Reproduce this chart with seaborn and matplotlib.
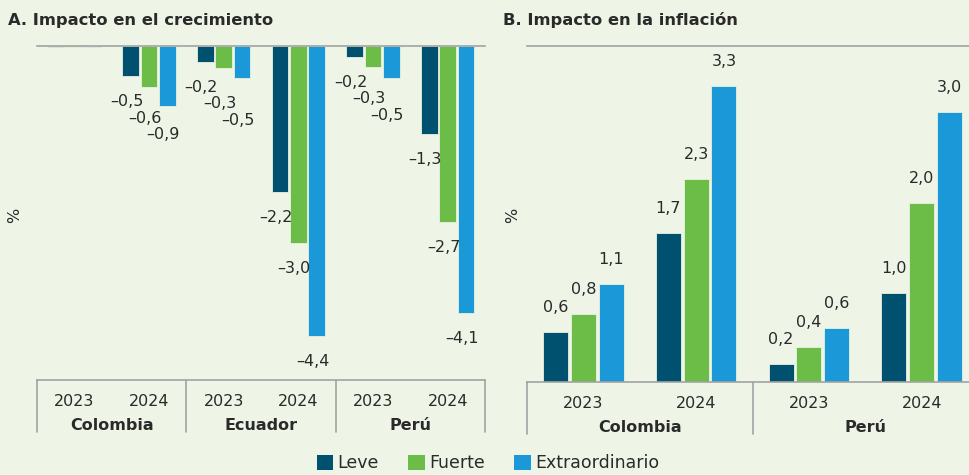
import matplotlib
matplotlib.use("Agg")
import matplotlib.pyplot as plt
import matplotlib.transforms as mtransforms
from matplotlib.patches import Patch
import seaborn as sns
import pandas as pd

# ---------------- data ----------------
scenarios = ["Leve", "Fuerte", "Extraordinario"]
years = ["2023", "2024"]
countries_a = ["Colombia", "Ecuador", "Perú"]
countries_b = ["Colombia", "Perú"]

# A. growth impact (%), slots: Col 23, Col 24, Ecu 23, Ecu 24, Per 23, Per 24
growth_leve = [-0.02, -0.46, -0.24, -2.22, -0.16, -1.34]
growth_fuerte = [-0.02, -0.63, -0.34, -2.99, -0.32, -2.67]
growth_extra = [-0.02, -0.91, -0.49, -4.41, -0.48, -4.06]

# B. inflation impact (%), slots: Col 23, Col 24, Per 23, Per 24
infl_leve = [0.56, 1.66, 0.20, 0.99]
infl_fuerte = [0.76, 2.26, 0.39, 1.99]
infl_extra = [1.09, 3.30, 0.60, 3.01]

title_a = "A. Impacto en el crecimiento"
title_b = "B. Impacto en la inflación"
ylabel = "%"

# ---------------- style ----------------
DPI = 100
BG = "#eef5e7"
COLORS = ["#00506f", "#6bbd47", "#1b98d7"]
GRID = "#a3a3a3"
TXT = "#2a2a2a"
NEG_BASE_PX = 25.5   # distance from negative bar end to label centre
NEG_GAP_PX = 16.5    # minimum vertical spacing between stacked negative labels
POS_OFFSET_PT = 17.6

sns.set_theme(style="white")
plt.rcParams["font.family"] = ["DejaVu Sans"]
plt.rcParams["text.color"] = TXT


def long_frame(countries, series):
    rows = []
    for s, vals in zip(scenarios, series):
        i = 0
        for c in countries:
            for y in years:
                rows.append({"slot": f"{c} {y}", "Escenario": s, "valor": vals[i]})
                i += 1
    return pd.DataFrame(rows)


df_a = long_frame(countries_a, [growth_leve, growth_fuerte, growth_extra])
df_b = long_frame(countries_b, [infl_leve, infl_fuerte, infl_extra])

fig = plt.figure(figsize=(9.69, 4.75), dpi=DPI, facecolor=BG)
ax_a = fig.add_axes([37 / 969, 1 - 380 / 475, 448 / 969, 334 / 475])
ax_b = fig.add_axes([527 / 969, 1 - 382 / 475, 451 / 969, 336 / 475])


def fmt(v):
    s = f"{abs(v):.1f}".replace(".", ",")
    return ("\u2013" + s) if v < 0 else s


def draw(ax, df, countries, ylim):
    ax.set_facecolor(BG)
    order = [f"{c} {y}" for c in countries for y in years]
    sns.barplot(data=df, x="slot", y="valor", hue="Escenario", order=order,
                hue_order=scenarios, palette=COLORS, width=0.74, gap=0.1,
                edgecolor="#e8f2e0", linewidth=0.6, ax=ax, legend=False,
                errorbar=None, saturation=1)
    ax.set_ylim(*ylim)
    ax.set_xlim(-0.5, len(order) - 0.5)
    ax.set_yticks([])
    ax.set_xlabel("")
    ax.set_ylabel("")
    ax.set_xticks(range(len(order)))
    ax.set_xticklabels([y for c in countries for y in years], fontsize=11.5, color=TXT)
    ax.tick_params(axis="x", length=0, pad=10)
    for side in ["left", "right"]:
        ax.spines[side].set_visible(False)
    for side in ["top", "bottom"]:
        ax.spines[side].set_visible(True)
        ax.spines[side].set_color(GRID)
        ax.spines[side].set_linewidth(1.2)

    # value labels (negative ones stacked so they never collide)
    n_slots = len(order)
    for i in range(n_slots):
        prev_disp = None
        for k, cont in enumerate(ax.containers):
            bar = cont[i]
            h = bar.get_height()
            xc = bar.get_x() + bar.get_width() / 2
            if abs(h) < 0.05:
                continue
            if h < 0:
                end_disp = ax.transData.transform((xc, h))[1]
                lab = end_disp - NEG_BASE_PX
                if prev_disp is not None:
                    lab = min(lab, prev_disp - NEG_GAP_PX)
                prev_disp = lab
                off_pt = (lab - end_disp) * 72 / DPI
                ax.annotate(fmt(h), (xc, h), xytext=(-2.9, off_pt),
                            textcoords="offset points", ha="center", va="center",
                            fontsize=11.5, color=TXT)
            else:
                ax.annotate(fmt(h), (xc, h), xytext=(0, POS_OFFSET_PT),
                            textcoords="offset points", ha="center", va="center",
                            fontsize=11.5, color=TXT)

    # group boxes below the axis
    trans = mtransforms.blended_transform_factory(ax.transData, ax.transAxes)
    height_px = ax.get_position().height * 475
    depth = -52 / height_px
    for k in range(len(countries) + 1):
        xv = -0.5 + 2 * k
        ax.plot([xv, xv], [0, depth], transform=trans, color=GRID, lw=1.2, clip_on=False)
    for k, c in enumerate(countries):
        ax.text(2 * k + 0.5, -45 / height_px, c, transform=trans, ha="center", va="center",
                fontsize=11.5, fontweight="bold", color=TXT)


draw(ax_a, df_a, countries_a, (-5.08, 0))
draw(ax_b, df_b, countries_b, (0, 3.74))

fig.text(8 / 969, 1 - 20 / 475, title_a, fontsize=11.8, fontweight="bold", color=TXT,
         ha="left", va="center")
fig.text(503 / 969, 1 - 20 / 475, title_b, fontsize=11.8, fontweight="bold", color=TXT,
         ha="left", va="center")
fig.text(15 / 969, 1 - 215 / 475, ylabel, rotation=90, fontsize=11.5, color=TXT,
         ha="center", va="center")
fig.text(513 / 969, 1 - 215 / 475, ylabel, rotation=90, fontsize=11.5, color=TXT,
         ha="center", va="center")

handles = [Patch(facecolor=c, edgecolor="none", label=s) for c, s in zip(COLORS, scenarios)]
fig.legend(handles=handles, loc="center", bbox_to_anchor=(488 / 969, 1 - 463 / 475), ncol=3,
           frameon=False, fontsize=12.5, handlelength=0.95, handleheight=0.95,
           handletextpad=0.25, columnspacing=1.7, labelcolor=TXT)

fig.savefig("out.png", dpi=DPI, facecolor=BG)
